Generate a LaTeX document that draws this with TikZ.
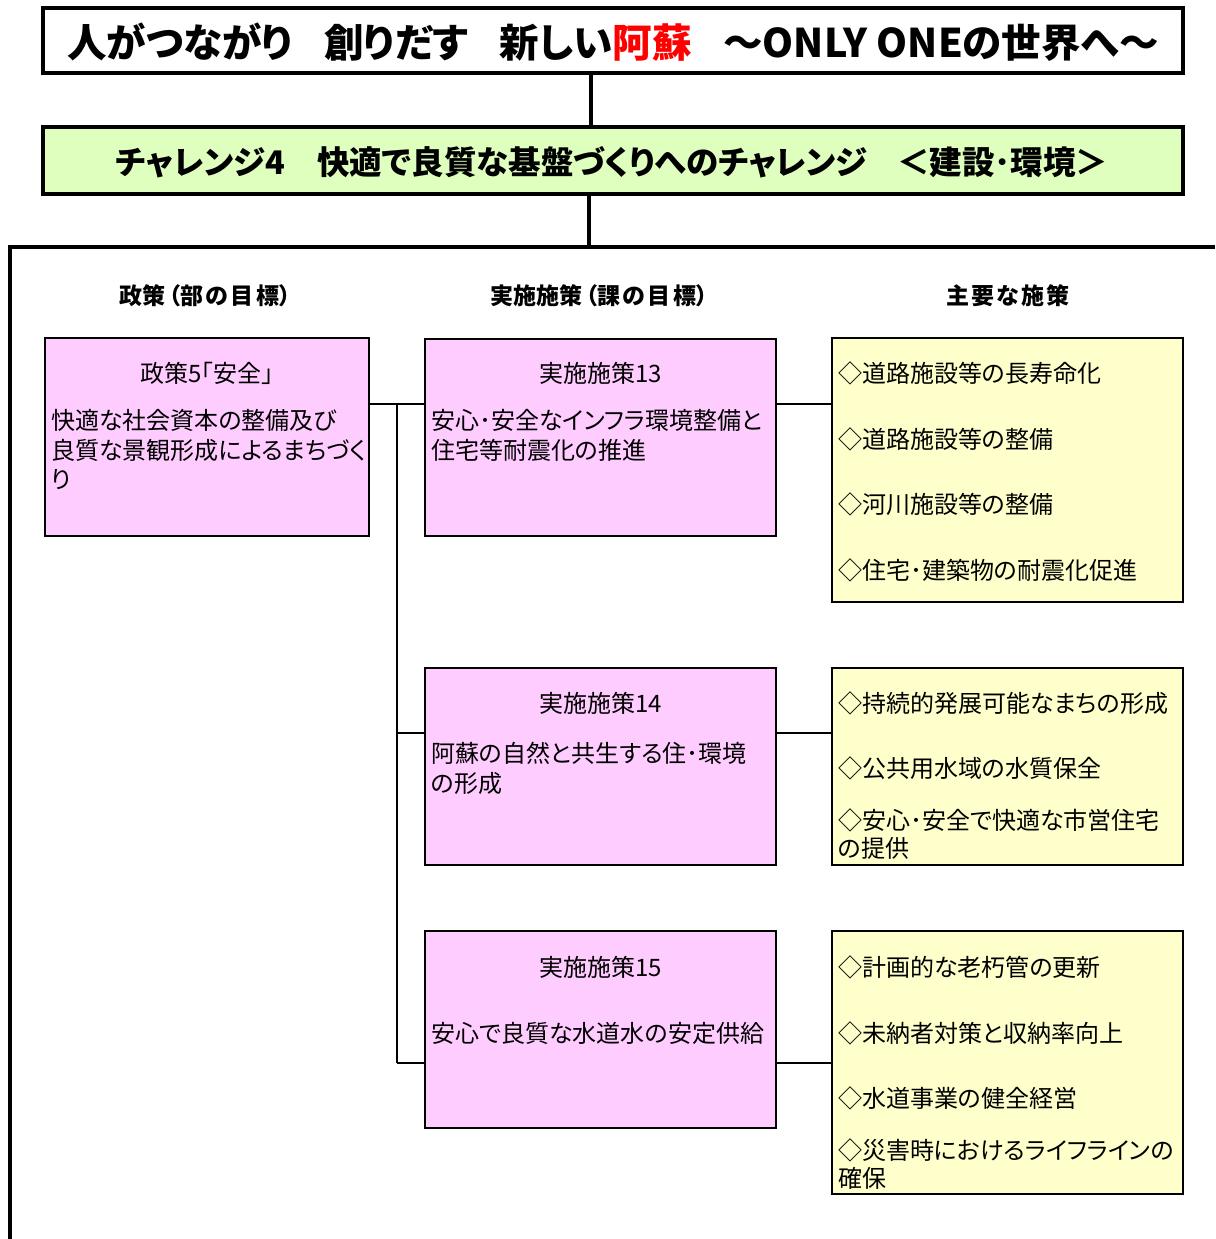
\documentclass[tikz,border=0pt]{standalone}
\usepackage{fontspec}
\setmainfont{Noto Sans CJK JP}[RawFeature=+palt]
\newfontfamily\jpplain{Noto Sans CJK JP}
\definecolor{pinkc}{HTML}{FFCCFF}
\definecolor{yelc}{HTML}{FFFFCC}
\definecolor{grnc}{HTML}{DFFFBF}
\definecolor{redc}{HTML}{FF0000}
\begin{document}
\begin{tikzpicture}[x=1pt,y=-1pt,
  box/.style={draw, line width=2pt, inner sep=0pt, outer sep=0pt},
  pinkbox/.style={box, fill=pinkc, minimum width=351pt, minimum height=197pt},
  yelbox/.style={box, fill=yelc, minimum width=351pt},
  bigbox/.style={draw, line width=3.5pt, inner sep=0pt, outer sep=0pt, minimum width=1140pt},
  conn/.style={line width=2pt},
  thickconn/.style={line width=3.5pt},
  body/.style={font=\fontsize{24}{28}\selectfont, inner sep=0pt, anchor=west},
  cbody/.style={font=\fontsize{24}{28}\selectfont, inner sep=0pt, anchor=center},
  head/.style={font=\fontsize{23}{26}\selectfont\bfseries, inner sep=0pt, anchor=center}
]
\useasboundingbox[fill=white] (0,0) rectangle (1215,1239);

% title and challenge
\node[bigbox, fill=white, minimum height=65pt] (title) at (613,40.5) {};
\node[inner sep=0pt] (titletext) at (613,42) {\fontsize{39.5}{41}\selectfont\bfseries 人がつながり\hspace{0.8em}創りだす\hspace{0.8em}新しい\textcolor{redc}{阿蘇}\hspace{0.8em}～ONLY ONEの世界へ～};
\node[bigbox, fill=grnc, minimum height=67pt] (chal) at (613,160.5) {};
\node[inner sep=0pt] (chaltext) at (612,162) {\fontsize{32.5}{34}\selectfont\bfseries チャレンジ4\hspace{1em}快適で良質な基盤づくりへのチャレンジ\hspace{0.9em}＜建設･環境＞};

\coordinate (t1) at (591,73);
\coordinate (c1) at (591,127);
\coordinate (c2) at (589,194);
\coordinate (ftop) at (589,247);
\coordinate (fl) at (10,247);
\coordinate (fr) at (1215,247);
\coordinate (fb) at (10,1239);
\draw[thickconn] (t1) -- (c1);
\draw[thickconn] (c2) -- (ftop);
\draw[thickconn] (fr) -- (fl) -- (fb);

% headers
\node[head] (h1) at (205,296) {政策\hspace{0.15em}（部\hspace{0.1em}の\hspace{0.1em}目\hspace{0.1em}標）};
\node[head] (h2) at (599,296) {実施施策\hspace{0.15em}（課\hspace{0.1em}の\hspace{0.1em}目\hspace{0.1em}標）};
\node[head] (h3) at (1008,296) {主\hspace{0.1em}要\hspace{0.1em}な\hspace{0.1em}施\hspace{0.1em}策};

% policy box
\node[box, fill=pinkc, minimum width=324pt, minimum height=198pt] (p5) at (207,437) {};
\node[cbody] (p5t) at (207,373) {政策5｢安全｣};
\node[body] (p5a) at (51,420) {快適な社会資本の整備及び};
\node[body] (p5b) at (51,450) {良質な景観形成によるまちづく};
\node[body] (p5c) at (51,480) {り};

% implementation boxes
\node[pinkbox] (s13) at (600.5,437) {};
\node[cbody] (s13t) at (600.5,373) {実施施策13};
\node[body] (s13a) at (431,420) {安心･安全なインフラ環境整備と};
\node[body] (s13b) at (431,450) {住宅等耐震化の推進};

\node[pinkbox] (s14) at (600.5,766.5) {};
\node[cbody] (s14t) at (600.5,703) {実施施策14};
\node[body] (s14a) at (431,753) {阿蘇の自然と共生する住･環境};
\node[body] (s14b) at (431,783) {の形成};

\node[pinkbox] (s15) at (600.5,1029.5) {};
\node[cbody] (s15t) at (600.5,967) {実施施策15};
\node[body] (s15a) at (431,1033) {安心で良質な水道水の安定供給};

% measure boxes
\node[yelbox, minimum height=264pt] (ya) at (1007.5,470) {};
\node[body] (ya1) at (838,373) {◇道路施設等の長寿命化};
\node[body] (ya2) at (838,439) {◇道路施設等の整備};
\node[body] (ya3) at (838,504) {◇河川施設等の整備};
\node[body] (ya4) at (838,570) {◇住宅･建築物の耐震化促進};

\node[yelbox, minimum height=197pt] (yb) at (1007.5,766.5) {};
\node[body] (yb1) at (838,703) {◇持続的発展可能なまちの形成};
\node[body] (yb2) at (838,768) {◇公共用水域の水質保全};
\node[body] (yb3) at (838,820) {◇安心･安全で快適な市営住宅};
\node[body] (yb4) at (838,848) {の提供};

\node[yelbox, minimum height=263pt] (yc) at (1007.5,1062.5) {};
\node[body] (yc1) at (838,967) {◇計画的な老朽管の更新};
\node[body] (yc2) at (838,1033) {◇未納者対策と収納率向上};
\node[body] (yc3) at (838,1098) {◇水道事業の健全経営};
\node[body] (yc4) at (838,1150) {◇災害時におけるライフラインの};
\node[body] (yc5) at (838,1178) {確保};

% connectors
\coordinate (j13) at (397,404);
\coordinate (j14) at (397,733);
\coordinate (j15) at (397,1063);
\draw[conn] (p5.east |- j13) -- (s13.west |- j13);
\draw[conn] (j13) -- (j15);
\draw[conn] (j14) -- (s14.west |- j14);
\draw[conn] (j15) -- (s15.west |- j15);
\draw[conn] (s13.east |- j13) -- (ya.west |- j13);
\draw[conn] (s14.east |- j14) -- (yb.west |- j14);
\draw[conn] (s15.east |- j15) -- (yc.west |- j15);
\end{tikzpicture}
\end{document}
